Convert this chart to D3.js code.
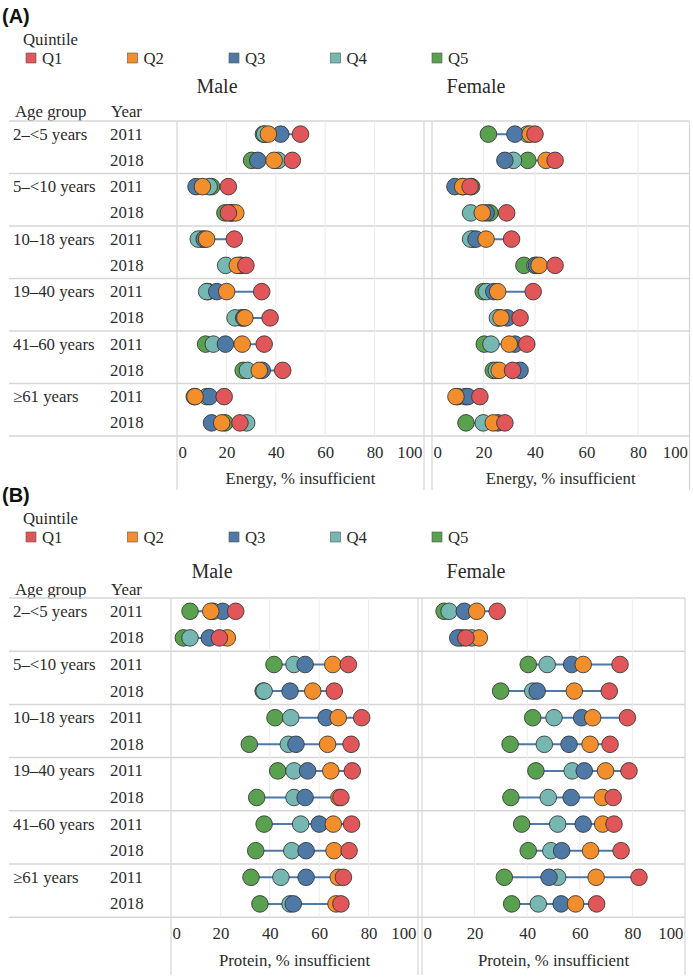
<!DOCTYPE html>
<html><head><meta charset="utf-8">
<script src="https://cdn.jsdelivr.net/npm/d3@7"></script>
<style>
body{margin:0;background:#fff}svg{display:block}
svg text{font-family:"Liberation Serif","Times New Roman",Times,serif !important;}
svg text.lbl{font-family:"Liberation Sans",Arial,Helvetica,sans-serif !important;}
</style>
</head><body><div id="chart"></div>
<script>
const quintiles = ["Q1","Q2","Q3","Q4","Q5"];
const colors = ["#e15759","#f28e2b","#4e79a7","#76b7b2","#59a14f"];
const ageGroups = ["2\u2013<5 years","5\u2013<10 years","10\u201318 years","19\u201340 years","41\u201360 years","\u226561 years"];
const years = ["2011","2018"];
const tickValues = [0,20,40,60,80,100];
// values per row (age group x year), order [Q1,Q2,Q3,Q4,Q5]
const energyMale = [
 [50,37,42,35.5,35],[46.7,39.3,32.7,41,30.2],
 [20.8,10.3,7.7,13,14],[20.8,23.8,22,22,19.4],
 [23.2,12,11,8.6,10],[27.9,24.4,26,19.7,25.5],
 [34.3,20.1,16.1,12,12.5],[37.7,27.5,27,23.5,26],
 [35.3,26.4,19.6,14.7,11.6],[42.8,33.3,34.5,28.5,26.8],
 [19.1,7.3,13.1,12,7],[25.5,18.1,14,28.2,19.4]];
const energyFemale = [
 [40,38.1,32.2,37,21.9],[47.8,44.3,28.3,31.6,37.2],
 [14.8,11.9,8.9,12,15.4],[29,19.5,21,15,22.5],
 [30.9,21,17.1,15,16],[47.8,41.6,40.6,40,35.7],
 [39.3,25.5,24,21.2,19.9],[34.2,26.8,29.2,25.4,26],
 [36.8,30,32.2,22.9,20.3],[31.3,26.1,34.2,25,23.8],
 [18.6,9.3,13.9,13,10],[28.3,23.8,25.6,19.9,13.2]];
const proteinMale = [
 [26.2,16.1,20.9,17,7.7],[19.6,22.8,15.5,7.7,5],
 [71.8,65.5,54.3,49.8,41.7],[66.1,57.4,48.2,37.7,37.3],
 [77.2,67.7,62.8,48.5,42.1],[72.9,63.4,50.6,47.5,31.7],
 [73.4,64.7,55.3,49.8,43.2],[68.8,68,54.3,49.8,34.7],
 [73.1,65.7,60,52.5,37.7],[72.1,66,54.7,48.9,34.3],
 [69.8,67.7,54.7,44.5,32.4],[68.8,66.8,49.5,48.2,36]];
const proteinFemale = [
 [28.6,20.8,16.1,10.3,8.4],[16.7,21.8,13.6,18.9,15],
 [75.3,61.3,56.9,47.6,40.4],[71.2,57.9,43.8,42.1,29.9],
 [78.1,64.9,60.7,50.2,42.1],[71.5,63.9,55.9,46.5,33.5],
 [78.7,69.8,61.7,57.1,43.3],[72.7,68.6,56.7,48,33.8],
 [73,68.7,61.3,51.6,37.9],[75.7,64.1,53.1,49,40.4],
 [82.5,66.2,48.3,51.6,31.3],[66.4,58.4,52.9,44.2,34.1]];

const W = 693, H = 978;
const svg = d3.select("#chart").append("svg").attr("width", W).attr("height", H);
const textCol = "#2b2b2b";
const FS = 16.8;

const rows = [];
ageGroups.forEach((a,i)=>years.forEach((y,j)=>rows.push({key:i+"-"+j, age:a, year:y, first:j===0})));

function txt(sel, size){ return sel.attr("font-size",size).attr("fill",textCol); }

function panel(cfg){
  const g = svg.append("g");
  const o = cfg.off;
  g.append("text").attr("class","lbl").attr("x",2).attr("y",o+23)
    .attr("font-weight","bold").attr("font-size",20).attr("fill","#111").text(cfg.label);
  txt(g.append("text").attr("x",23).attr("y",o+39).attr("dominant-baseline","central"),FS).text("Quintile");
  const leg = g.selectAll("g.leg").data(quintiles).join("g").attr("class","leg")
    .attr("transform",(d,i)=>`translate(${26+i*101.5},${o+58})`);
  leg.append("rect").attr("x",0).attr("y",-5).attr("width",10).attr("height",10)
    .attr("fill",(d,i)=>colors[i]).attr("stroke","#555").attr("stroke-width",0.6);
  txt(leg.append("text").attr("x",16).attr("y",0).attr("dominant-baseline","central"),FS).text(d=>d);
  txt(g.append("text").attr("x",cfg.maleTitleX).attr("y",o+cfg.titleY).attr("text-anchor","middle").attr("dominant-baseline","central"),20).text("Male");
  txt(g.append("text").attr("x",476).attr("y",o+cfg.titleY).attr("text-anchor","middle").attr("dominant-baseline","central"),20).text("Female");
  txt(g.append("text").attr("x",15).attr("y",o+cfg.headY).attr("dominant-baseline","central"),FS).text("Age group");
  txt(g.append("text").attr("x",111).attr("y",o+cfg.headY).attr("dominant-baseline","central"),FS).text("Year");

  const top = cfg.top, bottom = cfg.top + 12*cfg.rowH;
  const y = d3.scaleBand().domain(rows.map(r=>r.key)).range([top,bottom]);
  const yc = k => y(k)+y.bandwidth()/2;

  txt(g.selectAll("text.age").data(rows.filter(r=>r.first)).join("text").attr("class","age")
    .attr("x",13).attr("y",r=>yc(r.key)).attr("dominant-baseline","central"),FS).text(r=>r.age);
  txt(g.selectAll("text.yr").data(rows).join("text").attr("class","yr")
    .attr("x",110).attr("y",r=>yc(r.key)).attr("dominant-baseline","central"),FS).text(r=>r.year);

  const seps = d3.range(0,7).map(i=> top + i*2*cfg.rowH);
  g.selectAll("line.sep").data(seps).join("line").attr("class","sep")
    .attr("x1",9).attr("x2",cfg.female.range[1]).attr("y1",d=>d).attr("y2",d=>d)
    .attr("stroke","#d6d6d6").attr("stroke-width",1.5);

  [cfg.male, cfg.female].forEach(p=>{
    const x = d3.scaleLinear().domain([0,100]).range(p.range);
    const pg = g.append("g");
    pg.selectAll("line.grid").data([20,40,60,80]).join("line")
      .attr("x1",d=>x(d)).attr("x2",d=>x(d)).attr("y1",top).attr("y2",bottom)
      .attr("stroke","#ececec").attr("stroke-width",1);
    pg.selectAll("line.border").data([0,100]).join("line")
      .attr("x1",d=>x(d)).attr("x2",d=>x(d)).attr("y1",top).attr("y2",cfg.vBottom)
      .attr("stroke","#d6d6d6").attr("stroke-width",1.2);
    const ax = pg.append("g").attr("transform",`translate(0,${cfg.tickY})`)
      .call(d3.axisBottom(x).tickValues(tickValues).tickSize(0).tickPadding(0));
    ax.attr("font-family",null);
    ax.select(".domain").remove();
    ax.selectAll("text").attr("font-size",FS).attr("fill",textCol)
      .attr("dy","0.35em").attr("y",0)
      .attr("text-anchor",d=>d===0?"start":d===100?"end":"middle")
      .attr("dx",d=>d===0?1:d===100?-2:0);
    txt(pg.append("text").attr("x",(p.range[0]+p.range[1])/2).attr("y",cfg.axTitleY)
      .attr("text-anchor","middle").attr("dominant-baseline","central"),FS).text(cfg.axisTitle);
    const data = rows.map((r,i)=>({key:r.key, vals:p.vals[i]}));
    pg.selectAll("line.rng").data(data).join("line")
      .attr("x1",d=>x(d3.min(d.vals))).attr("x2",d=>x(d3.max(d.vals)))
      .attr("y1",d=>yc(d.key)).attr("y2",d=>yc(d.key))
      .attr("stroke","#4e79a7").attr("stroke-width",2);
    const pts = [];
    data.forEach(d=>{ for(let q=4;q>=0;q--) pts.push({key:d.key,q:q,v:d.vals[q]}); });
    pg.selectAll("circle").data(pts).join("circle")
      .attr("cx",d=>x(d.v)).attr("cy",d=>yc(d.key)).attr("r",8.3)
      .attr("fill",d=>colors[d.q]).attr("stroke","#333").attr("stroke-opacity",0.85).attr("stroke-width",1);
  });
}

panel({label:"(A)", off:0, maleTitleX:217, titleY:86, headY:111, top:121, rowH:26.25,
  male:{range:[177,424], vals:energyMale}, female:{range:[432,689.5], vals:energyFemale},
  tickY:452, axTitleY:478, vBottom:490, axisTitle:"Energy, % insufficient"});
panel({label:"(B)", off:479, maleTitleX:212, titleY:92, headY:110, top:598, rowH:26.6,
  male:{range:[171,418], vals:proteinMale}, female:{range:[422,685], vals:proteinFemale},
  tickY:933, axTitleY:960, vBottom:975, axisTitle:"Protein, % insufficient"});
</script></body></html>
